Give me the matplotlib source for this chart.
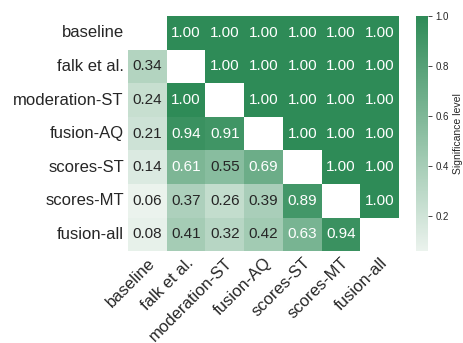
import numpy as np
import seaborn as sns
import matplotlib.pyplot as plt

# Pairwise significance levels between systems (diagonal left empty)
systems = ["baseline", "falk et al.", "moderation-ST", "fusion-AQ",
           "scores-ST", "scores-MT", "fusion-all"]

row_baseline = [np.nan, 1.00, 1.00, 1.00, 1.00, 1.00, 1.00]
row_falk = [0.34, np.nan, 1.00, 1.00, 1.00, 1.00, 1.00]
row_moderation_st = [0.24, 1.00, np.nan, 1.00, 1.00, 1.00, 1.00]
row_fusion_aq = [0.21, 0.94, 0.91, np.nan, 1.00, 1.00, 1.00]
row_scores_st = [0.14, 0.61, 0.55, 0.69, np.nan, 1.00, 1.00]
row_scores_mt = [0.06, 0.37, 0.26, 0.39, 0.89, np.nan, 1.00]
row_fusion_all = [0.08, 0.41, 0.32, 0.42, 0.63, 0.94, np.nan]

sig = np.array([row_baseline, row_falk, row_moderation_st, row_fusion_aq,
                row_scores_st, row_scores_mt, row_fusion_all])

sns.set_style("white")
plt.rcParams['font.family'] = ['Liberation Sans', 'DejaVu Sans']

fig = plt.figure(figsize=(4.64, 3.43), dpi=100)
ax = fig.add_axes([0.276, 0.268, 0.584, 0.685])
cax = fig.add_axes([0.897, 0.268, 0.026, 0.685])

cmap = sns.light_palette("seagreen", as_cmap=True)
sns.heatmap(sig, mask=np.isnan(sig), cmap=cmap, annot=True, fmt=".2f",
            annot_kws={"size": 11}, xticklabels=systems, yticklabels=systems,
            ax=ax, cbar_ax=cax)

ax.tick_params(axis="both", length=0, labelsize=12, pad=3)
ax.set_xticklabels(systems, rotation=45, ha="right", rotation_mode="anchor")
ax.set_yticklabels(systems, rotation=0)

cax.set_yticks([0.2, 0.4, 0.6, 0.8, 1.0])
cax.tick_params(labelsize=7, length=3, width=0.6, colors="0.15", pad=2)
cax.set_ylabel("Significance level", fontsize=7.5, labelpad=3)

fig.savefig("out.png", dpi=100)
